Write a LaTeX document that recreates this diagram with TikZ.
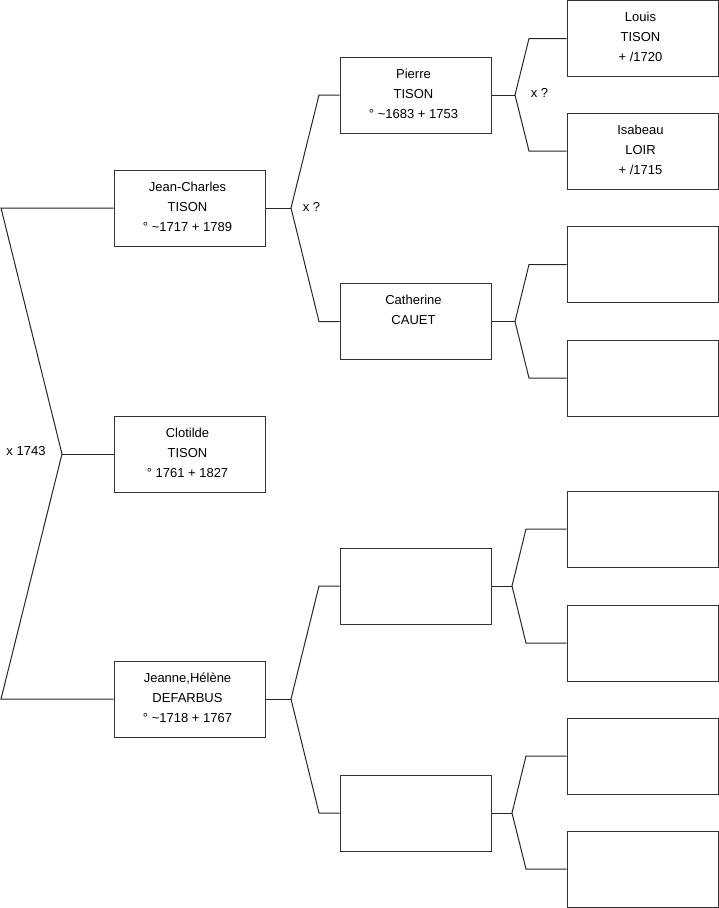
\documentclass[tikz,border=0pt]{standalone}
\usepackage{fontspec}
\setmainfont{Liberation Sans}
\begin{document}
\begin{tikzpicture}[x=1pt,y=-1pt,
  pbox/.style={draw=black!80, line width=1pt, minimum width=151pt, minimum height=76pt, inner sep=0pt},
  ptext/.style={anchor=north, inner sep=0pt, align=center, font=\fontsize{13}{20}\selectfont, yshift=-10.5pt, xshift=-2pt},
  conn/.style={draw=black!85, line width=1pt},
  mlabel/.style={inner sep=0pt, font=\fontsize{13}{16}\selectfont}]
\useasboundingbox (0,0) rectangle (719,908);
% generation 1
\node[pbox, label={[ptext]north:{\rule{0pt}{11pt}Jean-Charles\\TISON\\° \textasciitilde1717 + 1789}}] (jc) at (189.5,208) {};
\node[pbox, label={[ptext]north:{\rule{0pt}{11pt}Clotilde\\TISON\\° 1761 + 1827}}] (clo) at (189.5,454) {};
\node[pbox, label={[ptext]north:{\rule{0pt}{11pt}Jeanne,Hélène\\DEFARBUS\\° \textasciitilde1718 + 1767}}] (jea) at (189.5,699) {};
% generation 2
\node[pbox, label={[ptext]north:{\rule{0pt}{11pt}Pierre\\TISON\\° \textasciitilde1683 + 1753}}] (pie) at (415.5,95) {};
\node[pbox, label={[ptext]north:{\rule{0pt}{11pt}Catherine\\CAUET}}] (cat) at (415.5,321.5) {};
\node[pbox] (m1) at (415.5,586) {};
\node[pbox] (m2) at (415.5,813) {};
% generation 3
\node[pbox, label={[ptext]north:{\rule{0pt}{11pt}Louis\\TISON\\+ /1720}}] (lou) at (642.5,38.5) {};
\node[pbox, label={[ptext]north:{\rule{0pt}{11pt}Isabeau\\LOIR\\+ /1715}}] (isa) at (642.5,151) {};
\node[pbox] (g3) at (642.5,264.5) {};
\node[pbox] (g4) at (642.5,378) {};
\node[pbox] (g5) at (642.5,529) {};
\node[pbox] (g6) at (642.5,643) {};
\node[pbox] (g7) at (642.5,756) {};
\node[pbox] (g8) at (642.5,869) {};
% fork coordinates
\coordinate (f0) at (62,454);
\coordinate (f0a) at (1,208);
\coordinate (f0b) at (1,699);
\coordinate (f1) at (291,208);
\coordinate (f1a) at (319,95);
\coordinate (f1b) at (319,321.5);
\coordinate (f2) at (291,699);
\coordinate (f2a) at (319,586);
\coordinate (f2b) at (319,813);
\coordinate (f3) at (515,95);
\coordinate (f3a) at (529,38.5);
\coordinate (f3b) at (529,151);
\coordinate (f4) at (515,321.5);
\coordinate (f4a) at (529,264.5);
\coordinate (f4b) at (529,378);
\coordinate (f5) at (512,586);
\coordinate (f5a) at (526,529);
\coordinate (f5b) at (526,643);
\coordinate (f6) at (512,813);
\coordinate (f6a) at (526,756);
\coordinate (f6b) at (526,869);
% connectors
\draw[conn] (clo.west) -- (f0);
\draw[conn] (jc.west) -- (f0a) -- (f0) -- (f0b) -- (jea.west);
\draw[conn] (jc.east) -- (f1);
\draw[conn] (pie.west) -- (f1a) -- (f1) -- (f1b) -- (cat.west);
\draw[conn] (jea.east) -- (f2);
\draw[conn] (m1.west) -- (f2a) -- (f2) -- (f2b) -- (m2.west);
\draw[conn] (pie.east) -- (f3);
\draw[conn] (lou.west) -- (f3a) -- (f3) -- (f3b) -- (isa.west);
\draw[conn] (cat.east) -- (f4);
\draw[conn] (g3.west) -- (f4a) -- (f4) -- (f4b) -- (g4.west);
\draw[conn] (m1.east) -- (f5);
\draw[conn] (g5.west) -- (f5a) -- (f5) -- (f5b) -- (g6.west);
\draw[conn] (m2.east) -- (f6);
\draw[conn] (g7.west) -- (f6a) -- (f6) -- (f6b) -- (g8.west);
% marriage labels
\node[mlabel] (x0) at (26,451.5) {x 1743};
\node[mlabel] (x1) at (311.5,207) {x ?};
\node[mlabel] (x2) at (539.5,92.5) {x ?};
\end{tikzpicture}
\end{document}
